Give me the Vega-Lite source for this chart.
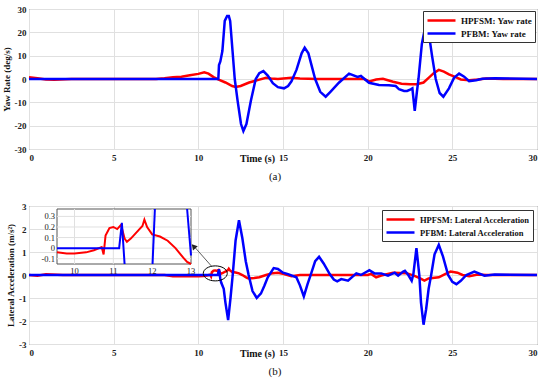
{
  "$schema": "https://vega.github.io/schema/vega-lite/v6.json",
  "padding": {"left": 1, "top": 4, "right": 10, "bottom": 4},
  "datasets": {
    "yaw": [
      {"t":0,"v":0.7,"series":"HPFSM: Yaw rate"},{"t":0.5,"v":0.3,"series":"HPFSM: Yaw rate"},{"t":1,"v":-0.2,"series":"HPFSM: Yaw rate"},{"t":1.5,"v":-0.3,"series":"HPFSM: Yaw rate"},{"t":2.5,"v":0,"series":"HPFSM: Yaw rate"},{"t":7.5,"v":0,"series":"HPFSM: Yaw rate"},{"t":8,"v":0.3,"series":"HPFSM: Yaw rate"},{"t":8.5,"v":0.8,"series":"HPFSM: Yaw rate"},{"t":9,"v":1.0,"series":"HPFSM: Yaw rate"},{"t":9.5,"v":1.6,"series":"HPFSM: Yaw rate"},{"t":10,"v":2.2,"series":"HPFSM: Yaw rate"},{"t":10.35,"v":2.9,"series":"HPFSM: Yaw rate"},{"t":10.6,"v":2.3,"series":"HPFSM: Yaw rate"},{"t":10.9,"v":0.8,"series":"HPFSM: Yaw rate"},{"t":11.2,"v":-0.3,"series":"HPFSM: Yaw rate"},{"t":11.6,"v":-1.5,"series":"HPFSM: Yaw rate"},{"t":12.0,"v":-3,"series":"HPFSM: Yaw rate"},{"t":12.2,"v":-3.4,"series":"HPFSM: Yaw rate"},{"t":12.5,"v":-3,"series":"HPFSM: Yaw rate"},{"t":13,"v":-1.5,"series":"HPFSM: Yaw rate"},{"t":13.5,"v":-0.5,"series":"HPFSM: Yaw rate"},{"t":14,"v":0.5,"series":"HPFSM: Yaw rate"},{"t":14.3,"v":0.2,"series":"HPFSM: Yaw rate"},{"t":14.7,"v":0,"series":"HPFSM: Yaw rate"},{"t":15.5,"v":0.5,"series":"HPFSM: Yaw rate"},{"t":16,"v":0.2,"series":"HPFSM: Yaw rate"},{"t":17,"v":0,"series":"HPFSM: Yaw rate"},{"t":19.8,"v":0,"series":"HPFSM: Yaw rate"},{"t":20.1,"v":-1.0,"series":"HPFSM: Yaw rate"},{"t":20.5,"v":-0.2,"series":"HPFSM: Yaw rate"},{"t":20.9,"v":0.1,"series":"HPFSM: Yaw rate"},{"t":21.5,"v":-1.2,"series":"HPFSM: Yaw rate"},{"t":22,"v":-2,"series":"HPFSM: Yaw rate"},{"t":22.5,"v":-2.2,"series":"HPFSM: Yaw rate"},{"t":22.9,"v":-2.2,"series":"HPFSM: Yaw rate"},{"t":23.3,"v":-1.5,"series":"HPFSM: Yaw rate"},{"t":23.6,"v":0.5,"series":"HPFSM: Yaw rate"},{"t":23.9,"v":2.5,"series":"HPFSM: Yaw rate"},{"t":24.2,"v":3.9,"series":"HPFSM: Yaw rate"},{"t":24.5,"v":3.2,"series":"HPFSM: Yaw rate"},{"t":24.8,"v":2,"series":"HPFSM: Yaw rate"},{"t":25.2,"v":0.8,"series":"HPFSM: Yaw rate"},{"t":25.5,"v":-0.2,"series":"HPFSM: Yaw rate"},{"t":26,"v":-0.5,"series":"HPFSM: Yaw rate"},{"t":26.5,"v":-0.2,"series":"HPFSM: Yaw rate"},{"t":27,"v":0.2,"series":"HPFSM: Yaw rate"},{"t":28,"v":0,"series":"HPFSM: Yaw rate"},{"t":30,"v":0,"series":"HPFSM: Yaw rate"},
      {"t":0,"v":0,"series":"PFBM: Yaw rate"},{"t":11.18,"v":0,"series":"PFBM: Yaw rate"},{"t":11.22,"v":6,"series":"PFBM: Yaw rate"},{"t":11.3,"v":7.5,"series":"PFBM: Yaw rate"},{"t":11.42,"v":12,"series":"PFBM: Yaw rate"},{"t":11.56,"v":24.9,"series":"PFBM: Yaw rate"},{"t":11.7,"v":27,"series":"PFBM: Yaw rate"},{"t":11.8,"v":27,"series":"PFBM: Yaw rate"},{"t":11.88,"v":24.9,"series":"PFBM: Yaw rate"},{"t":12.02,"v":12,"series":"PFBM: Yaw rate"},{"t":12.15,"v":0,"series":"PFBM: Yaw rate"},{"t":12.32,"v":-9.4,"series":"PFBM: Yaw rate"},{"t":12.52,"v":-19.3,"series":"PFBM: Yaw rate"},{"t":12.66,"v":-22.3,"series":"PFBM: Yaw rate"},{"t":12.84,"v":-19.3,"series":"PFBM: Yaw rate"},{"t":13.1,"v":-9.4,"series":"PFBM: Yaw rate"},{"t":13.39,"v":0,"series":"PFBM: Yaw rate"},{"t":13.6,"v":2.5,"series":"PFBM: Yaw rate"},{"t":13.84,"v":3.4,"series":"PFBM: Yaw rate"},{"t":14.1,"v":1.5,"series":"PFBM: Yaw rate"},{"t":14.4,"v":-1.8,"series":"PFBM: Yaw rate"},{"t":14.7,"v":-3.5,"series":"PFBM: Yaw rate"},{"t":15.06,"v":-4,"series":"PFBM: Yaw rate"},{"t":15.3,"v":-3,"series":"PFBM: Yaw rate"},{"t":15.5,"v":-1,"series":"PFBM: Yaw rate"},{"t":15.8,"v":4,"series":"PFBM: Yaw rate"},{"t":16.1,"v":11,"series":"PFBM: Yaw rate"},{"t":16.28,"v":13.4,"series":"PFBM: Yaw rate"},{"t":16.5,"v":11,"series":"PFBM: Yaw rate"},{"t":16.9,"v":0,"series":"PFBM: Yaw rate"},{"t":17.2,"v":-5.5,"series":"PFBM: Yaw rate"},{"t":17.52,"v":-7.6,"series":"PFBM: Yaw rate"},{"t":17.8,"v":-5.5,"series":"PFBM: Yaw rate"},{"t":18.3,"v":-1.6,"series":"PFBM: Yaw rate"},{"t":18.9,"v":2.3,"series":"PFBM: Yaw rate"},{"t":19.4,"v":0.9,"series":"PFBM: Yaw rate"},{"t":19.6,"v":1.3,"series":"PFBM: Yaw rate"},{"t":20.08,"v":-1.6,"series":"PFBM: Yaw rate"},{"t":20.67,"v":-2.6,"series":"PFBM: Yaw rate"},{"t":21.26,"v":-2.7,"series":"PFBM: Yaw rate"},{"t":21.66,"v":-3,"series":"PFBM: Yaw rate"},{"t":21.85,"v":-4.4,"series":"PFBM: Yaw rate"},{"t":22.15,"v":-5.1,"series":"PFBM: Yaw rate"},{"t":22.33,"v":-5.1,"series":"PFBM: Yaw rate"},{"t":22.54,"v":-4.4,"series":"PFBM: Yaw rate"},{"t":22.64,"v":-4,"series":"PFBM: Yaw rate"},{"t":22.78,"v":-13.7,"series":"PFBM: Yaw rate"},{"t":22.9,"v":-6,"series":"PFBM: Yaw rate"},{"t":23.0,"v":0,"series":"PFBM: Yaw rate"},{"t":23.2,"v":15,"series":"PFBM: Yaw rate"},{"t":23.43,"v":23.4,"series":"PFBM: Yaw rate"},{"t":23.6,"v":20,"series":"PFBM: Yaw rate"},{"t":23.8,"v":10,"series":"PFBM: Yaw rate"},{"t":24.02,"v":0,"series":"PFBM: Yaw rate"},{"t":24.25,"v":-6,"series":"PFBM: Yaw rate"},{"t":24.47,"v":-7.6,"series":"PFBM: Yaw rate"},{"t":24.8,"v":-4,"series":"PFBM: Yaw rate"},{"t":25.1,"v":0.5,"series":"PFBM: Yaw rate"},{"t":25.4,"v":2.3,"series":"PFBM: Yaw rate"},{"t":25.7,"v":1,"series":"PFBM: Yaw rate"},{"t":25.99,"v":-0.9,"series":"PFBM: Yaw rate"},{"t":26.4,"v":-0.5,"series":"PFBM: Yaw rate"},{"t":26.78,"v":0.1,"series":"PFBM: Yaw rate"},{"t":27.5,"v":0.3,"series":"PFBM: Yaw rate"},{"t":30,"v":0,"series":"PFBM: Yaw rate"}
    ],
    "lat": [
      {"t":0,"v":0,"series":"HPFSM: Lateral Acceleration"},{"t":0.5,"v":-0.03,"series":"HPFSM: Lateral Acceleration"},{"t":1,"v":0.03,"series":"HPFSM: Lateral Acceleration"},{"t":2,"v":0,"series":"HPFSM: Lateral Acceleration"},{"t":8,"v":0,"series":"HPFSM: Lateral Acceleration"},{"t":8.5,"v":-0.05,"series":"HPFSM: Lateral Acceleration"},{"t":9.55,"v":-0.04,"series":"HPFSM: Lateral Acceleration"},{"t":9.8,"v":-0.05,"series":"HPFSM: Lateral Acceleration"},{"t":10,"v":-0.05,"series":"HPFSM: Lateral Acceleration"},{"t":10.3,"v":-0.04,"series":"HPFSM: Lateral Acceleration"},{"t":10.5,"v":-0.02,"series":"HPFSM: Lateral Acceleration"},{"t":10.7,"v":0.01,"series":"HPFSM: Lateral Acceleration"},{"t":10.75,"v":-0.06,"series":"HPFSM: Lateral Acceleration"},{"t":10.8,"v":0.12,"series":"HPFSM: Lateral Acceleration"},{"t":10.9,"v":0.19,"series":"HPFSM: Lateral Acceleration"},{"t":11.0,"v":0.2,"series":"HPFSM: Lateral Acceleration"},{"t":11.1,"v":0.18,"series":"HPFSM: Lateral Acceleration"},{"t":11.2,"v":0.22,"series":"HPFSM: Lateral Acceleration"},{"t":11.29,"v":0.09,"series":"HPFSM: Lateral Acceleration"},{"t":11.35,"v":0.06,"series":"HPFSM: Lateral Acceleration"},{"t":11.45,"v":0.09,"series":"HPFSM: Lateral Acceleration"},{"t":11.55,"v":0.13,"series":"HPFSM: Lateral Acceleration"},{"t":11.65,"v":0.17,"series":"HPFSM: Lateral Acceleration"},{"t":11.75,"v":0.21,"series":"HPFSM: Lateral Acceleration"},{"t":11.8,"v":0.27,"series":"HPFSM: Lateral Acceleration"},{"t":11.87,"v":0.2,"series":"HPFSM: Lateral Acceleration"},{"t":12.0,"v":0.13,"series":"HPFSM: Lateral Acceleration"},{"t":12.2,"v":0.11,"series":"HPFSM: Lateral Acceleration"},{"t":12.4,"v":0.07,"series":"HPFSM: Lateral Acceleration"},{"t":12.6,"v":0.0,"series":"HPFSM: Lateral Acceleration"},{"t":12.8,"v":-0.09,"series":"HPFSM: Lateral Acceleration"},{"t":12.9,"v":-0.13,"series":"HPFSM: Lateral Acceleration"},{"t":13.0,"v":-0.15,"series":"HPFSM: Lateral Acceleration"},{"t":13.3,"v":-0.13,"series":"HPFSM: Lateral Acceleration"},{"t":13.6,"v":-0.1,"series":"HPFSM: Lateral Acceleration"},{"t":14.0,"v":0.0,"series":"HPFSM: Lateral Acceleration"},{"t":14.4,"v":0.08,"series":"HPFSM: Lateral Acceleration"},{"t":14.7,"v":0.1,"series":"HPFSM: Lateral Acceleration"},{"t":15.0,"v":0.05,"series":"HPFSM: Lateral Acceleration"},{"t":15.5,"v":-0.05,"series":"HPFSM: Lateral Acceleration"},{"t":16,"v":0,"series":"HPFSM: Lateral Acceleration"},{"t":20.0,"v":0,"series":"HPFSM: Lateral Acceleration"},{"t":20.2,"v":0.05,"series":"HPFSM: Lateral Acceleration"},{"t":20.5,"v":-0.1,"series":"HPFSM: Lateral Acceleration"},{"t":20.8,"v":-0.02,"series":"HPFSM: Lateral Acceleration"},{"t":21.5,"v":0.1,"series":"HPFSM: Lateral Acceleration"},{"t":22.3,"v":0.08,"series":"HPFSM: Lateral Acceleration"},{"t":22.8,"v":-0.05,"series":"HPFSM: Lateral Acceleration"},{"t":23.1,"v":-0.15,"series":"HPFSM: Lateral Acceleration"},{"t":23.35,"v":-0.24,"series":"HPFSM: Lateral Acceleration"},{"t":23.6,"v":-0.15,"series":"HPFSM: Lateral Acceleration"},{"t":24.2,"v":-0.1,"series":"HPFSM: Lateral Acceleration"},{"t":24.6,"v":0.05,"series":"HPFSM: Lateral Acceleration"},{"t":24.9,"v":0.15,"series":"HPFSM: Lateral Acceleration"},{"t":25.3,"v":0.1,"series":"HPFSM: Lateral Acceleration"},{"t":25.6,"v":0.0,"series":"HPFSM: Lateral Acceleration"},{"t":26.0,"v":-0.05,"series":"HPFSM: Lateral Acceleration"},{"t":26.5,"v":0.02,"series":"HPFSM: Lateral Acceleration"},{"t":27,"v":0,"series":"HPFSM: Lateral Acceleration"},{"t":30,"v":0,"series":"HPFSM: Lateral Acceleration"},
      {"t":0,"v":0,"series":"PFBM: Lateral Acceleration"},{"t":11.15,"v":0,"series":"PFBM: Lateral Acceleration"},{"t":11.22,"v":0.25,"series":"PFBM: Lateral Acceleration"},{"t":11.3,"v":-0.17,"series":"PFBM: Lateral Acceleration"},{"t":11.35,"v":-0.33,"series":"PFBM: Lateral Acceleration"},{"t":11.5,"v":-0.6,"series":"PFBM: Lateral Acceleration"},{"t":11.6,"v":-1.2,"series":"PFBM: Lateral Acceleration"},{"t":11.76,"v":-1.96,"series":"PFBM: Lateral Acceleration"},{"t":11.9,"v":-1.0,"series":"PFBM: Lateral Acceleration"},{"t":12.03,"v":0,"series":"PFBM: Lateral Acceleration"},{"t":12.2,"v":1.5,"series":"PFBM: Lateral Acceleration"},{"t":12.4,"v":2.38,"series":"PFBM: Lateral Acceleration"},{"t":12.6,"v":1.6,"series":"PFBM: Lateral Acceleration"},{"t":12.8,"v":0.6,"series":"PFBM: Lateral Acceleration"},{"t":12.97,"v":0,"series":"PFBM: Lateral Acceleration"},{"t":13.2,"v":-0.7,"series":"PFBM: Lateral Acceleration"},{"t":13.45,"v":-1.0,"series":"PFBM: Lateral Acceleration"},{"t":13.7,"v":-0.8,"series":"PFBM: Lateral Acceleration"},{"t":13.9,"v":-0.47,"series":"PFBM: Lateral Acceleration"},{"t":14.1,"v":-0.1,"series":"PFBM: Lateral Acceleration"},{"t":14.45,"v":0.3,"series":"PFBM: Lateral Acceleration"},{"t":14.7,"v":0.26,"series":"PFBM: Lateral Acceleration"},{"t":15.0,"v":0.1,"series":"PFBM: Lateral Acceleration"},{"t":15.3,"v":0.04,"series":"PFBM: Lateral Acceleration"},{"t":15.79,"v":-0.1,"series":"PFBM: Lateral Acceleration"},{"t":16.0,"v":-0.45,"series":"PFBM: Lateral Acceleration"},{"t":16.23,"v":-0.93,"series":"PFBM: Lateral Acceleration"},{"t":16.45,"v":-0.4,"series":"PFBM: Lateral Acceleration"},{"t":16.68,"v":0.1,"series":"PFBM: Lateral Acceleration"},{"t":16.9,"v":0.6,"series":"PFBM: Lateral Acceleration"},{"t":17.13,"v":0.79,"series":"PFBM: Lateral Acceleration"},{"t":17.4,"v":0.5,"series":"PFBM: Lateral Acceleration"},{"t":17.76,"v":0.04,"series":"PFBM: Lateral Acceleration"},{"t":18.0,"v":-0.2,"series":"PFBM: Lateral Acceleration"},{"t":18.2,"v":-0.28,"series":"PFBM: Lateral Acceleration"},{"t":18.44,"v":-0.18,"series":"PFBM: Lateral Acceleration"},{"t":18.84,"v":-0.25,"series":"PFBM: Lateral Acceleration"},{"t":19.33,"v":0.07,"series":"PFBM: Lateral Acceleration"},{"t":19.6,"v":0.0,"series":"PFBM: Lateral Acceleration"},{"t":20.1,"v":0.21,"series":"PFBM: Lateral Acceleration"},{"t":20.4,"v":0.07,"series":"PFBM: Lateral Acceleration"},{"t":20.8,"v":0.07,"series":"PFBM: Lateral Acceleration"},{"t":21.2,"v":-0.03,"series":"PFBM: Lateral Acceleration"},{"t":21.6,"v":0.1,"series":"PFBM: Lateral Acceleration"},{"t":21.8,"v":-0.03,"series":"PFBM: Lateral Acceleration"},{"t":22.1,"v":0.15,"series":"PFBM: Lateral Acceleration"},{"t":22.2,"v":0.18,"series":"PFBM: Lateral Acceleration"},{"t":22.4,"v":0,"series":"PFBM: Lateral Acceleration"},{"t":22.6,"v":-0.25,"series":"PFBM: Lateral Acceleration"},{"t":22.7,"v":0.04,"series":"PFBM: Lateral Acceleration"},{"t":22.88,"v":1.17,"series":"PFBM: Lateral Acceleration"},{"t":23.05,"v":0,"series":"PFBM: Lateral Acceleration"},{"t":23.15,"v":-1.2,"series":"PFBM: Lateral Acceleration"},{"t":23.3,"v":-2.16,"series":"PFBM: Lateral Acceleration"},{"t":23.45,"v":-1.5,"series":"PFBM: Lateral Acceleration"},{"t":23.6,"v":-0.6,"series":"PFBM: Lateral Acceleration"},{"t":23.75,"v":0,"series":"PFBM: Lateral Acceleration"},{"t":23.95,"v":0.9,"series":"PFBM: Lateral Acceleration"},{"t":24.2,"v":1.31,"series":"PFBM: Lateral Acceleration"},{"t":24.45,"v":0.8,"series":"PFBM: Lateral Acceleration"},{"t":24.75,"v":0,"series":"PFBM: Lateral Acceleration"},{"t":25.0,"v":-0.3,"series":"PFBM: Lateral Acceleration"},{"t":25.24,"v":-0.4,"series":"PFBM: Lateral Acceleration"},{"t":25.5,"v":-0.25,"series":"PFBM: Lateral Acceleration"},{"t":25.83,"v":0,"series":"PFBM: Lateral Acceleration"},{"t":26.3,"v":0.15,"series":"PFBM: Lateral Acceleration"},{"t":26.9,"v":-0.03,"series":"PFBM: Lateral Acceleration"},{"t":27.5,"v":0.02,"series":"PFBM: Lateral Acceleration"},{"t":30,"v":0,"series":"PFBM: Lateral Acceleration"}
    ],
    "inset": [
      {"t":9.55,"v":-0.04,"series":"HPFSM: Lateral Acceleration","seg":"r"},{"t":9.8,"v":-0.05,"series":"HPFSM: Lateral Acceleration","seg":"r"},{"t":10,"v":-0.05,"series":"HPFSM: Lateral Acceleration","seg":"r"},{"t":10.3,"v":-0.04,"series":"HPFSM: Lateral Acceleration","seg":"r"},{"t":10.5,"v":-0.02,"series":"HPFSM: Lateral Acceleration","seg":"r"},{"t":10.7,"v":0.01,"series":"HPFSM: Lateral Acceleration","seg":"r"},{"t":10.75,"v":-0.06,"series":"HPFSM: Lateral Acceleration","seg":"r"},{"t":10.8,"v":0.12,"series":"HPFSM: Lateral Acceleration","seg":"r"},{"t":10.9,"v":0.19,"series":"HPFSM: Lateral Acceleration","seg":"r"},{"t":11.0,"v":0.2,"series":"HPFSM: Lateral Acceleration","seg":"r"},{"t":11.1,"v":0.18,"series":"HPFSM: Lateral Acceleration","seg":"r"},{"t":11.2,"v":0.22,"series":"HPFSM: Lateral Acceleration","seg":"r"},{"t":11.29,"v":0.09,"series":"HPFSM: Lateral Acceleration","seg":"r"},{"t":11.35,"v":0.06,"series":"HPFSM: Lateral Acceleration","seg":"r"},{"t":11.45,"v":0.09,"series":"HPFSM: Lateral Acceleration","seg":"r"},{"t":11.55,"v":0.13,"series":"HPFSM: Lateral Acceleration","seg":"r"},{"t":11.65,"v":0.17,"series":"HPFSM: Lateral Acceleration","seg":"r"},{"t":11.75,"v":0.21,"series":"HPFSM: Lateral Acceleration","seg":"r"},{"t":11.8,"v":0.27,"series":"HPFSM: Lateral Acceleration","seg":"r"},{"t":11.87,"v":0.2,"series":"HPFSM: Lateral Acceleration","seg":"r"},{"t":12.0,"v":0.13,"series":"HPFSM: Lateral Acceleration","seg":"r"},{"t":12.2,"v":0.11,"series":"HPFSM: Lateral Acceleration","seg":"r"},{"t":12.4,"v":0.07,"series":"HPFSM: Lateral Acceleration","seg":"r"},{"t":12.6,"v":0.0,"series":"HPFSM: Lateral Acceleration","seg":"r"},{"t":12.8,"v":-0.09,"series":"HPFSM: Lateral Acceleration","seg":"r"},{"t":12.9,"v":-0.13,"series":"HPFSM: Lateral Acceleration","seg":"r"},{"t":13.0,"v":-0.15,"series":"HPFSM: Lateral Acceleration","seg":"r"},
      {"t":9.55,"v":0,"series":"PFBM: Lateral Acceleration","seg":"b1"},{"t":11.15,"v":0,"series":"PFBM: Lateral Acceleration","seg":"b1"},{"t":11.22,"v":0.24,"series":"PFBM: Lateral Acceleration","seg":"b1"},{"t":11.29,"v":-0.15,"series":"PFBM: Lateral Acceleration","seg":"b1"},
      {"t":12.01,"v":-0.15,"series":"PFBM: Lateral Acceleration","seg":"b2"},{"t":12.07,"v":0.37,"series":"PFBM: Lateral Acceleration","seg":"b2"},
      {"t":12.9,"v":0.37,"series":"PFBM: Lateral Acceleration","seg":"b3"},{"t":13.0,"v":-0.07,"series":"PFBM: Lateral Acceleration","seg":"b3"}
    ]
  },
  "vconcat": [
    {
      "width": 508,
      "height": 140,
      "title": {"text": "(a)", "orient": "bottom", "offset": 8, "dx": -8},
      "data": {"name": "yaw"},
      "mark": {"type": "line", "strokeWidth": 2.5},
      "encoding": {
        "x": {"field": "t", "type": "quantitative", "scale": {"domain": [0, 30], "nice": false},
              "axis": {"values": [0,5,10,15,20,25,30], "title": "Time (s)", "titleX": 228, "titleY": 4, "titleAlign": "center", "titleBaseline": "top", "titleFontSize": 10, "labelPadding": 4}},
        "y": {"field": "v", "type": "quantitative", "scale": {"domain": [-30, 30], "nice": false},
              "axis": {"values": [-30,-20,-10,0,10,20,30], "title": "Yaw Rate (deg/s)", "labelPadding": 3, "titlePadding": 3, "labelExpr": "replace(datum.label, '\u2212', '-')"}},
        "color": {"field": "series", "type": "nominal",
                  "scale": {"domain": ["HPFSM: Yaw rate", "PFBM: Yaw rate"], "range": ["#ff0000", "#0000ff"]},
                  "legend": {"orient": "top-right", "offset": 2, "title": null}}
      }
    },
    {
      "width": 508,
      "height": 138,
      "title": {"text": "(b)", "orient": "bottom", "offset": 8, "dx": -8},
      "layer": [
        {
          "data": {"name": "lat"},
          "mark": {"type": "line", "strokeWidth": 2.5},
          "encoding": {
            "x": {"field": "t", "type": "quantitative", "scale": {"domain": [0, 30], "nice": false},
                  "axis": {"values": [0,5,10,15,20,25,30], "title": "Time (s)", "titleX": 228, "titleY": 4, "titleAlign": "center", "titleBaseline": "top", "titleFontSize": 10, "labelPadding": 4}},
            "y": {"field": "v", "type": "quantitative", "scale": {"domain": [-3, 3], "nice": false},
                  "axis": {"values": [-3,-2,-1,0,1,2,3], "title": "Lateral Acceleration (m/s²)", "labelPadding": 3, "titlePadding": 3, "labelExpr": "replace(datum.label, '\u2212', '-')"}},
            "color": {"field": "series", "type": "nominal",
                      "scale": {"domain": ["HPFSM: Lateral Acceleration", "PFBM: Lateral Acceleration"], "range": ["#ff0000", "#0000ff"]},
                      "legend": {"orient": "top-right", "offset": 4, "title": null, "labelFontSize": 8.5}}
          }
        },
        {
          "data": {"values": [{"t": 11.0, "v": 0.07}]},
          "mark": {"type": "point", "shape": "M-1,0A1,0.625,0,1,1,1,0A1,0.625,0,1,1,-1,0Z", "size": 576, "filled": false, "stroke": "#000000", "strokeWidth": 1, "opacity": 1},
          "encoding": {
            "x": {"field": "t", "type": "quantitative", "scale": {"domain": [0, 30], "nice": false}, "axis": null},
            "y": {"field": "v", "type": "quantitative", "scale": {"domain": [-3, 3], "nice": false}, "axis": null}
          }
        },
        {
          "data": {"values": [{"t": 10.77, "v": 0.39, "t2": 9.68, "v2": 1.3}]},
          "mark": {"type": "rule", "color": "#333333", "strokeWidth": 0.8},
          "encoding": {
            "x": {"field": "t", "type": "quantitative", "scale": {"domain": [0, 30], "nice": false}, "axis": null},
            "y": {"field": "v", "type": "quantitative", "scale": {"domain": [-3, 3], "nice": false}, "axis": null},
            "x2": {"field": "t2"},
            "y2": {"field": "v2"}
          }
        },
        {
          "data": {"values": [{"t": 9.72, "v": 1.25}]},
          "mark": {"type": "point", "shape": "triangle-up", "size": 40, "filled": true, "color": "#222222", "angle": 319, "opacity": 1},
          "encoding": {
            "x": {"field": "t", "type": "quantitative", "scale": {"domain": [0, 30], "nice": false}, "axis": null},
            "y": {"field": "v", "type": "quantitative", "scale": {"domain": [-3, 3], "nice": false}, "axis": null}
          }
        },
        {
          "data": {"values": [{}]},
          "mark": {"type": "rect", "fill": "#ffffff", "stroke": "#555555", "strokeWidth": 1},
          "encoding": {
            "x": {"datum": 9.55, "type": "quantitative", "scale": {"domain": [9.55, 13], "range": [28, 162], "nice": false, "zero": false}, "axis": null},
            "x2": {"datum": 13},
            "y": {"datum": -0.15, "type": "quantitative", "scale": {"domain": [-0.15, 0.37], "range": [58, 3], "nice": false, "zero": false}, "axis": null},
            "y2": {"datum": 0.37}
          }
        },
        {
          "data": {"values": [{"t": 10}, {"t": 11}, {"t": 12}]},
          "mark": {"type": "rule", "color": "#e0e0e0", "strokeWidth": 1},
          "encoding": {
            "x": {"field": "t", "type": "quantitative", "scale": {"domain": [9.55, 13], "range": [28, 162], "nice": false, "zero": false}, "axis": null},
            "y": {"datum": -0.15, "type": "quantitative", "scale": {"domain": [-0.15, 0.37], "range": [58, 3], "nice": false, "zero": false}, "axis": null},
            "y2": {"datum": 0.37}
          }
        },
        {
          "data": {"values": [{"v": -0.1}, {"v": 0}, {"v": 0.1}, {"v": 0.2}, {"v": 0.3}]},
          "mark": {"type": "rule", "color": "#e0e0e0", "strokeWidth": 1},
          "encoding": {
            "y": {"field": "v", "type": "quantitative", "scale": {"domain": [-0.15, 0.37], "range": [58, 3], "nice": false, "zero": false}, "axis": null},
            "x": {"datum": 9.55, "type": "quantitative", "scale": {"domain": [9.55, 13], "range": [28, 162], "nice": false, "zero": false}, "axis": null},
            "x2": {"datum": 13}
          }
        },
        {
          "data": {"values": [{"v": -0.1, "label": "-0.1"}, {"v": 0, "label": "0"}, {"v": 0.1, "label": "0.1"}, {"v": 0.2, "label": "0.2"}, {"v": 0.3, "label": "0.3"}]},
          "mark": {"type": "text", "align": "right", "baseline": "middle", "dx": -2, "fontSize": 8.5, "font": "Liberation Serif", "color": "#222222"},
          "encoding": {
            "y": {"field": "v", "type": "quantitative", "scale": {"domain": [-0.15, 0.37], "range": [58, 3], "nice": false, "zero": false}, "axis": null},
            "x": {"datum": 9.55, "type": "quantitative", "scale": {"domain": [9.55, 13], "range": [28, 162], "nice": false, "zero": false}, "axis": null},
            "text": {"field": "label"}
          }
        },
        {
          "data": {"values": [{"t": 10, "label": "10"}, {"t": 11, "label": "11"}, {"t": 12, "label": "12"}, {"t": 13, "label": "13"}]},
          "mark": {"type": "text", "align": "center", "baseline": "top", "dy": 3, "fontSize": 8.5, "font": "Liberation Serif", "color": "#222222"},
          "encoding": {
            "x": {"field": "t", "type": "quantitative", "scale": {"domain": [9.55, 13], "range": [28, 162], "nice": false, "zero": false}, "axis": null},
            "y": {"datum": -0.15, "type": "quantitative", "scale": {"domain": [-0.15, 0.37], "range": [58, 3], "nice": false, "zero": false}, "axis": null},
            "text": {"field": "label"}
          }
        },
        {
          "data": {"name": "inset"},
          "mark": {"type": "line", "strokeWidth": 2},
          "encoding": {
            "x": {"field": "t", "type": "quantitative", "scale": {"domain": [9.55, 13], "range": [28, 162], "nice": false, "zero": false}, "axis": null},
            "y": {"field": "v", "type": "quantitative", "scale": {"domain": [-0.15, 0.37], "range": [58, 3], "nice": false, "zero": false}, "axis": null},
            "detail": {"field": "seg", "type": "nominal"},
            "color": {"field": "series", "type": "nominal"}
          }
        }
      ],
      "resolve": {"scale": {"x": "independent", "y": "independent"}, "axis": {"x": "independent", "y": "independent"}}
    }
  ],
  "spacing": 18,
  "resolve": {"scale": {"color": "independent"}},
  "config": {
    "font": "Liberation Serif",
    "view": {"stroke": "#4d4d4d", "strokeWidth": 1},
    "axis": {
      "labelFont": "Liberation Serif", "labelFontWeight": "bold", "labelFontSize": 9, "labelColor": "#222222",
      "titleFont": "Liberation Serif", "titleFontWeight": "bold", "titleFontSize": 9, "titleColor": "#111111",
      "gridColor": "#e0e0e0", "domain": false, "ticks": false, "labelOverlap": false
    },
    "legend": {
      "labelFont": "Liberation Serif", "labelFontWeight": "bold", "labelFontSize": 9, "labelColor": "#111111",
      "symbolType": "M-1,0L4.6,0", "symbolSize": 100, "symbolStrokeWidth": 2.5, "fillColor": "#ffffff", "strokeColor": "#333333",
      "padding": 3, "rowPadding": 1, "labelOffset": 22, "labelLimit": 300
    },
    "title": {"font": "Liberation Serif", "fontSize": 11, "fontWeight": "normal", "color": "#111111"}
  }
}
